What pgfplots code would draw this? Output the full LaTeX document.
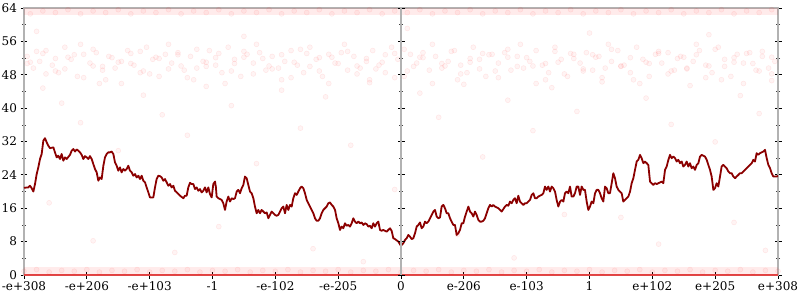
\documentclass[border=0pt]{standalone}
\usepackage{pgfplots}
\pgfplotsset{compat=1.18}
\usepackage{fontspec}
\setmainfont{DejaVu Serif}
\definecolor{lineRed}{RGB}{139,0,0}
\definecolor{axgray}{RGB}{178,178,178}
\begin{document}
\begin{tikzpicture}
\useasboundingbox (-24pt,-25pt) rectangle (776pt,275pt);
\pgfplotsset{every axis/.append style={scale only axis, height=267pt,
  ymin=0, ymax=64, ytick={0,8,...,64}, minor y tick num=1,
  tick align=center, major tick length=7pt, minor tick length=4pt,
  major tick style={black, line width=0.8pt}, minor tick style={black!75, line width=0.6pt},
  axis line style={axgray, line width=1.8pt},
  tick label style={font=\fontsize{12}{14}\selectfont},
  /pgf/number format/assume math mode=true}}
\begin{axis}[at={(0pt,0pt)}, anchor=south west, width=754pt, xmin=0, xmax=12,
  xtick={0,...,12},
  xticklabels={-e+308,-e+206,-e+103,-1,-e-102,-e-205,0,e-206,e-103,1,e+102,e+205,e+308},
  xtick pos=left, ytick pos=both, yticklabel pos=left]
% middle axis line
\addplot[axgray, line width=1.8pt] coordinates {(6,0) (6,64)};
% dense bands
\addplot[fill=red, fill opacity=0.08, draw=none] coordinates {(0,62.3) (12,62.3) (12,64) (0,64)} -- cycle;
\addplot[fill=red, fill opacity=0.08, draw=none] coordinates {(0,0) (12,0) (12,1.9) (0,1.9)} -- cycle;
\pgfplotsset{scat/.style={only marks, mark=*, mark size=2.5pt,
  mark options={fill=red, fill opacity=0.045, draw=red, draw opacity=0.08, line width=0.5pt}}}
\addplot[scat] coordinates {(0.1,62.6) (0.3,63.3) (0.5,62.9) (0.7,63.6) (0.9,62.6) (1.1,63.3) (1.3,62.9) (1.5,63.6) (1.7,62.6) (1.9,63.3) (2.1,62.9) (2.3,63.6) (2.5,62.6) (2.7,63.3) (2.9,62.9) (3.1,63.6) (3.3,62.6) (3.5,63.3) (3.7,62.9) (3.9,63.6) (4.1,62.6) (4.3,63.3) (4.5,62.9) (4.7,63.6) (4.9,62.6) (5.1,63.3) (5.3,62.9) (5.5,63.6) (5.7,62.6) (5.9,63.3) (6.1,62.9) (6.3,63.6) (6.5,62.6) (6.7,63.3) (6.9,62.9) (7.1,63.6) (7.3,62.6) (7.5,63.3) (7.7,62.9) (7.9,63.6) (8.1,62.6) (8.3,63.3) (8.5,62.9) (8.7,63.6) (8.9,62.6) (9.1,63.3) (9.3,62.9) (9.5,63.6) (9.7,62.6) (9.9,63.3) (10.1,62.9) (10.3,63.6) (10.5,62.6) (10.7,63.3) (10.9,62.9) (11.1,63.6) (11.3,62.6) (11.5,63.3) (11.7,62.9) (11.9,63.6)};
\addplot[scat] coordinates {(0,0.9) (0.2,1.3) (0.4,0.7) (0.6,1.1) (0.8,0.9) (1.0,1.3) (1.2,0.7) (1.4,1.1) (1.6,0.9) (1.8,1.3) (2.0,0.7) (2.2,1.1) (2.4,0.9) (2.6,1.3) (2.8,0.7) (3.0,1.1) (3.2,0.9) (3.4,1.3) (3.6,0.7) (3.8,1.1) (4.0,0.9) (4.2,1.3) (4.4,0.7) (4.6,1.1) (4.8,0.9) (5.0,1.3) (5.2,0.7) (5.4,1.1) (5.6,0.9) (5.8,1.3) (6.0,0.7) (6.2,1.1) (6.4,0.9) (6.6,1.3) (6.8,0.7) (7.0,1.1) (7.2,0.9) (7.4,1.3) (7.6,0.7) (7.8,1.1) (8.0,0.9) (8.2,1.3) (8.4,0.7) (8.6,1.1) (8.8,0.9) (9.0,1.3) (9.2,0.7) (9.4,1.1) (9.6,0.9) (9.8,1.3) (10.0,0.7) (10.2,1.1) (10.4,0.9) (10.6,1.3) (10.8,0.7) (11.0,1.1) (11.2,0.9) (11.4,1.3) (11.6,0.7) (11.8,1.1) (12.0,0.9)};
% middle cluster
\addplot[scat] coordinates {(0.05,52.4) (0.15,49.6) (0.25,51.2) (0.35,53.8) (0.45,50.3) (0.55,48.5) (0.65,54.6) (0.75,51.7) (0.85,47.6) (0.95,52.9) (1.05,50.8) (1.15,53.3) (1.25,49.1) (1.35,52.4) (1.45,49.6) (1.55,51.2) (1.65,53.8) (1.75,50.3) (1.85,48.5) (1.95,54.6) (2.05,51.7) (2.15,47.6) (2.25,52.9) (2.35,50.8) (2.45,53.3) (2.55,49.1) (2.65,52.4) (2.75,49.6) (2.85,51.2) (2.95,53.8) (3.05,50.3) (3.15,48.5) (3.25,54.6) (3.35,51.7) (3.45,47.6) (3.55,52.9) (3.65,50.8) (3.75,53.3) (3.85,49.1) (3.95,52.4) (4.05,49.6) (4.15,51.2) (4.25,53.8) (4.35,50.3) (4.45,48.5) (4.55,54.6) (4.65,51.7) (4.75,47.6) (4.85,52.9) (4.95,50.8) (5.05,53.3) (5.15,49.1) (5.25,52.4) (5.35,49.6) (5.45,51.2) (5.55,53.8) (5.65,50.3) (5.75,48.5) (5.85,54.6) (5.95,51.7) (6.05,47.6) (6.15,52.9) (6.25,50.8) (6.35,53.3) (6.45,49.1) (6.55,52.4) (6.65,49.6) (6.75,51.2) (6.85,53.8) (6.95,50.3) (7.05,48.5) (7.15,54.6) (7.25,51.7) (7.35,47.6) (7.45,52.9) (7.55,50.8) (7.65,53.3) (7.75,49.1) (7.85,52.4) (7.95,49.6) (8.05,51.2) (8.15,53.8) (8.25,50.3) (8.35,48.5) (8.45,54.6) (8.55,51.7) (8.65,47.6) (8.75,52.9) (8.85,50.8) (8.95,53.3) (9.05,49.1) (9.15,52.4) (9.25,49.6) (9.35,51.2) (9.45,53.8) (9.55,50.3) (9.65,48.5) (9.75,54.6) (9.85,51.7) (9.95,47.6) (10.05,52.9) (10.15,50.8) (10.25,53.3) (10.35,49.1) (10.45,52.4) (10.55,49.6) (10.65,51.2) (10.75,53.8) (10.85,50.3) (10.95,48.5) (11.05,54.6) (11.15,51.7) (11.25,47.6) (11.35,52.9) (11.45,50.8) (11.55,53.3) (11.65,49.1) (11.75,52.4) (11.85,49.6) (11.95,51.2)};
\addplot[scat] coordinates {(0.1,51.0) (0.3,53.1) (0.5,48.9) (0.7,52.2) (0.9,55.3) (1.1,50.1) (1.3,46.8) (1.5,51.0) (1.7,53.1) (1.9,48.9) (2.1,52.2) (2.3,55.3) (2.5,50.1) (2.7,46.8) (2.9,51.0) (3.1,53.1) (3.3,48.9) (3.5,52.2) (3.7,55.3) (3.9,50.1) (4.1,46.8) (4.3,51.0) (4.5,53.1) (4.7,48.9) (4.9,52.2) (5.1,55.3) (5.3,50.1) (5.5,46.8) (5.7,51.0) (5.9,53.1) (6.1,48.9) (6.3,52.2) (6.5,55.3) (6.7,50.1) (6.9,46.8) (7.1,51.0) (7.3,53.1) (7.5,48.9) (7.7,52.2) (7.9,55.3) (8.1,50.1) (8.3,46.8) (8.5,51.0) (8.7,53.1) (8.9,48.9) (9.1,52.2) (9.3,55.3) (9.5,50.1) (9.7,46.8) (9.9,51.0) (10.1,53.1) (10.3,48.9) (10.5,52.2) (10.7,55.3) (10.9,50.1) (11.1,46.8) (11.3,51.0) (11.5,53.1) (11.7,48.9) (11.9,52.2)};
\addplot[scat] coordinates {(0.05,50.7) (0.2,53.6) (0.35,48.2) (0.5,51.9) (0.65,49.4) (0.8,52.8) (0.95,47.3) (1.1,54.1) (1.25,50.0) (1.4,52.1) (1.55,45.9) (1.7,50.7) (1.85,53.6) (2.0,48.2) (2.15,51.9) (2.3,49.4) (2.45,52.8) (2.6,47.3) (2.75,54.1) (2.9,50.0) (3.05,52.1) (3.2,45.9) (3.35,50.7) (3.5,53.6) (3.65,48.2) (3.8,51.9) (3.95,49.4) (4.1,52.8) (4.25,47.3) (4.4,54.1) (4.55,50.0) (4.7,52.1) (4.85,45.9) (5.0,50.7) (5.15,53.6) (5.3,48.2) (5.45,51.9) (5.6,49.4) (5.75,52.8) (5.9,47.3) (6.05,54.1) (6.2,50.0) (6.35,52.1) (6.5,45.9) (6.65,50.7) (6.8,53.6) (6.95,48.2) (7.1,51.9) (7.25,49.4) (7.4,52.8) (7.55,47.3) (7.7,54.1) (7.85,50.0) (8.0,52.1) (8.15,45.9) (8.3,50.7) (8.45,53.6) (8.6,48.2) (8.75,51.9) (8.9,49.4) (9.05,52.8) (9.2,47.3) (9.35,54.1) (9.5,50.0) (9.65,52.1) (9.8,45.9) (9.95,50.7) (10.1,53.6) (10.25,48.2) (10.4,51.9) (10.55,49.4) (10.7,52.8) (10.85,47.3) (11.0,54.1) (11.15,50.0) (11.3,52.1) (11.45,45.9) (11.6,50.7) (11.75,53.6) (11.9,48.2)};
% sparse points
\addplot[scat] coordinates {(0.3,44.8) (0.6,41.2) (0.9,36.5) (1.2,45.9) (1.5,29.8) (1.9,43.1) (2.2,38.4) (2.6,33.5) (2.9,45.2) (3.3,40.6) (3.7,26.7) (4.1,44.3) (4.4,35.2) (4.8,42.7) (5.2,31.1) (5.5,46.1) (5.9,20.5) (6.3,43.6) (6.6,37.8) (7.0,45.7) (7.3,28.3) (7.7,41.9) (8.1,34.6) (8.4,44.9) (8.8,39.2) (9.2,46.3) (9.5,13.8) (9.9,42.4) (10.3,36.1) (10.6,45.4) (11.0,31.9) (11.4,43.0) (11.7,38.7) (11.9,46.6) (0.4,17.3) (1.1,8.2) (2.4,5.4) (3.1,11.6) (4.6,6.3) (5.4,3.2) (6.9,9.7) (7.8,4.1) (8.6,14.5) (10.1,7.4) (11.3,12.6) (11.8,5.9) (0.2,58.4) (3.5,57.2) (6.1,59.1) (9.0,58.0) (10.9,57.6)};
% zero line
\addplot[red, opacity=0.6, line width=2.2pt] coordinates {(0,0) (12,0)};
% main series
\addplot[lineRed, line width=1.8pt, line join=round] coordinates {
(0,20.9) (0.069,21.0) (0.095,21.4) (0.122,20.8) (0.149,20.0) (0.175,21.8) (0.202,24.2) (0.228,25.8) (0.255,27.8) (0.281,29.0) (0.308,32.2) (0.334,32.8) (0.361,31.8) (0.387,31.0) (0.414,30.4) (0.467,30.6) (0.493,29.4) (0.520,28.2) (0.546,28.6) (0.573,27.8) (0.599,29.0) (0.626,27.4) (0.653,28.2) (0.679,27.8) (0.732,28.8) (0.759,29.8) (0.785,30.2) (0.812,29.6) (0.838,30.1) (0.865,29.8) (0.891,29.4) (0.918,28.8) (0.944,27.8) (0.971,28.5) (0.997,28.2) (1.024,27.8) (1.050,28.5) (1.077,27.8) (1.103,26.6) (1.130,25.4) (1.157,24.6) (1.183,22.6) (1.210,23.4) (1.236,23.0) (1.263,26.2) (1.289,28.2) (1.316,29.0) (1.342,29.4) (1.369,29.4) (1.395,29.6) (1.422,29.0) (1.448,27.0) (1.475,26.2) (1.501,25.0) (1.528,25.8) (1.554,24.6) (1.581,25.4) (1.607,25.0) (1.634,25.4) (1.660,26.2) (1.687,25.0) (1.714,24.6) (1.740,23.8) (1.767,24.2) (1.793,23.4) (1.820,23.8) (1.846,23.0) (1.873,23.8) (1.899,22.6) (1.926,22.2) (1.952,21.0) (1.979,19.8) (2.005,18.6) (2.058,18.6) (2.085,21.0) (2.111,23.0) (2.138,23.8) (2.164,23.7) (2.191,23.4) (2.218,22.6) (2.244,23.0) (2.271,22.2) (2.297,21.4) (2.324,21.8) (2.350,21.0) (2.377,21.4) (2.403,20.2) (2.430,19.8) (2.483,19.0) (2.536,18.4) (2.562,19.0) (2.589,19.0) (2.615,21.0) (2.642,22.1) (2.668,21.8) (2.695,21.8) (2.721,20.6) (2.748,21.0) (2.775,20.2) (2.801,20.6) (2.828,19.8) (2.854,20.2) (2.881,21.0) (2.907,19.8) (2.934,21.0) (2.960,19.4) (2.987,18.6) (3.013,21.8)
(3.040,22.4) (3.053,21.2) (3.066,18.8) (3.093,18.4) (3.119,18.2) (3.146,18.0) (3.172,17.2) (3.199,15.6) (3.225,17.6) (3.252,18.8) (3.278,17.6) (3.305,18.4) (3.332,18.2) (3.358,18.4) (3.385,20.0) (3.411,20.4) (3.438,19.6) (3.464,20.8) (3.491,21.6) (3.517,23.6) (3.544,23.2) (3.570,21.6) (3.597,20.0) (3.623,19.6) (3.650,18.4) (3.676,16.4) (3.703,14.8) (3.729,15.6) (3.756,14.8) (3.782,15.6) (3.809,15.2) (3.836,14.8) (3.862,15.0) (3.889,13.6) (3.915,14.4) (3.942,15.2) (3.968,14.8) (3.995,14.4) (4.021,14.2) (4.048,14.4) (4.074,15.2) (4.101,16.0) (4.127,16.4) (4.154,14.8) (4.180,16.8) (4.207,15.6) (4.233,16.8) (4.260,16.4) (4.286,18.4) (4.313,19.6) (4.340,19.2) (4.366,20.0) (4.393,20.8) (4.419,21.2) (4.446,20.8) (4.472,19.6) (4.499,18.0) (4.525,17.2) (4.552,16.4) (4.578,15.6) (4.605,14.8) (4.631,13.6) (4.658,13.0) (4.684,13.0) (4.711,13.6) (4.737,14.8) (4.764,15.6) (4.790,16.0) (4.817,16.4) (4.844,17.2) (4.870,17.4) (4.897,16.8) (4.923,16.4) (4.950,15.6) (4.976,13.6) (5.003,12.4) (5.029,10.8) (5.056,11.6) (5.082,11.2) (5.109,12.4) (5.135,11.8) (5.162,12.0) (5.188,11.6) (5.215,12.4) (5.241,13.6) (5.268,12.8) (5.294,12.4) (5.321,12.8) (5.348,12.4) (5.374,12.6) (5.401,12.0) (5.427,12.4) (5.454,12.2) (5.480,11.6) (5.507,11.8) (5.533,11.2) (5.560,12.4) (5.586,11.6) (5.613,12.4) (5.639,12.8) (5.666,10.8) (5.692,10.6) (5.719,10.8) (5.745,10.6) (5.772,10.4) (5.798,10.8) (5.825,11.2) (5.851,10.6) (5.878,8.8)
(5.905,8.6) (5.958,8.0) (5.999,7.0) (6.037,7.6) (6.064,8.4) (6.090,8.8) (6.117,9.6) (6.143,9.2) (6.170,8.6) (6.196,8.8) (6.223,10.0) (6.249,11.6) (6.276,12.0) (6.302,12.6) (6.329,11.2) (6.355,11.6) (6.382,12.8) (6.408,12.4) (6.435,12.8) (6.462,13.6) (6.488,14.4) (6.515,15.2) (6.541,15.6) (6.568,14.0) (6.594,13.6) (6.621,13.8) (6.647,16.4) (6.674,16.8) (6.700,16.0) (6.727,14.8) (6.753,14.8) (6.780,13.6) (6.806,12.8) (6.833,12.0) (6.859,12.0) (6.886,9.6) (6.912,10.0) (6.939,10.8) (6.966,12.4) (6.992,12.4) (7.019,14.0) (7.045,15.2) (7.072,16.4) (7.098,15.2) (7.125,14.8) (7.151,14.0) (7.178,15.2) (7.204,14.4) (7.231,13.2) (7.257,12.8) (7.284,12.8) (7.310,13.0) (7.337,13.6) (7.363,14.8) (7.390,16.0) (7.416,16.8) (7.443,16.4) (7.469,16.8) (7.496,16.4) (7.523,16.2) (7.549,16.0) (7.576,15.6) (7.602,15.2) (7.629,15.8) (7.655,16.4) (7.682,16.8) (7.708,16.6) (7.735,17.6) (7.761,17.2) (7.788,18.0) (7.814,18.4) (7.841,17.2) (7.867,19.0) (7.894,17.6) (7.920,17.2) (7.947,16.8) (7.973,17.2) (8.000,17.2) (8.027,17.6) (8.053,18.0) (8.080,19.2) (8.106,19.6) (8.133,18.4) (8.159,18.4) (8.186,18.8) (8.212,19.0) (8.239,19.2) (8.265,19.6) (8.292,21.2) (8.318,20.4) (8.345,21.2) (8.371,20.0) (8.398,21.2) (8.424,20.8) (8.451,20.0) (8.477,18.0) (8.504,16.4) (8.531,17.6) (8.557,18.0) (8.584,17.6) (8.610,19.6) (8.637,20.0) (8.663,19.6) (8.690,21.2) (8.716,18.8) (8.743,18.8) (8.769,19.6) (8.796,21.2) (8.822,21.2) (8.849,19.2) (8.875,21.2) (8.902,20.4)
(8.928,20.4) (8.955,17.6) (8.981,15.6) (9.008,16.4) (9.034,17.6) (9.061,17.2) (9.088,19.6) (9.114,20.4) (9.141,20.4) (9.167,19.6) (9.194,18.4) (9.220,17.6) (9.247,21.2) (9.273,20.8) (9.300,19.6) (9.326,19.6) (9.353,22.0) (9.379,24.4) (9.406,23.2) (9.432,21.2) (9.459,20.4) (9.485,20.0) (9.512,19.6) (9.538,17.6) (9.565,18.0) (9.592,18.4) (9.618,18.8) (9.645,20.0) (9.671,22.0) (9.698,23.2) (9.724,25.2) (9.751,27.2) (9.777,27.6) (9.804,28.8) (9.830,28.0) (9.857,26.8) (9.883,27.2) (9.910,26.8) (9.936,26.4) (9.963,22.4) (9.989,22.0) (10.016,21.6) (10.042,22.0) (10.069,21.8) (10.095,22.0) (10.122,22.2) (10.149,22.4) (10.175,22.0) (10.202,25.2) (10.228,26.0) (10.255,27.6) (10.281,28.8) (10.308,28.0) (10.334,28.4) (10.361,28.0) (10.387,27.2) (10.414,27.6) (10.440,26.8) (10.467,27.2) (10.493,26.0) (10.520,26.4) (10.546,27.2) (10.573,26.0) (10.599,26.8) (10.626,25.6) (10.653,26.0) (10.679,25.2) (10.706,26.4) (10.732,26.8) (10.759,28.4) (10.785,28.8) (10.812,28.6) (10.838,28.4) (10.865,27.6) (10.891,26.4) (10.918,25.2) (10.944,23.6) (10.971,20.4) (10.997,20.8) (11.024,22.0) (11.050,21.2) (11.077,23.6) (11.103,26.0) (11.130,26.4) (11.156,26.0) (11.183,25.6) (11.210,24.8) (11.236,24.4) (11.263,24.4) (11.289,23.6) (11.316,23.2) (11.342,23.6) (11.369,24.0) (11.395,24.4) (11.422,24.4) (11.448,24.8) (11.475,25.2) (11.501,25.6) (11.528,26.0) (11.554,26.4) (11.581,26.8) (11.607,27.6) (11.634,27.2) (11.660,29.2) (11.687,28.8) (11.714,29.2) (11.740,29.4) (11.767,29.6) (11.793,30.0) (11.820,28.0) (11.846,26.4) (11.873,25.6) (11.899,24.4) (11.926,23.6) (11.952,23.6) (11.979,23.6) (12,23.8)};
\end{axis}
% middle vertical axis ticks (right edge of the left half)
\begin{axis}[at={(0pt,0pt)}, anchor=south west, width=377pt, xmin=0, xmax=1,
  axis x line=none, axis y line*=right, ytick pos=right, yticklabels={}]
\end{axis}
\end{tikzpicture}
\end{document}
